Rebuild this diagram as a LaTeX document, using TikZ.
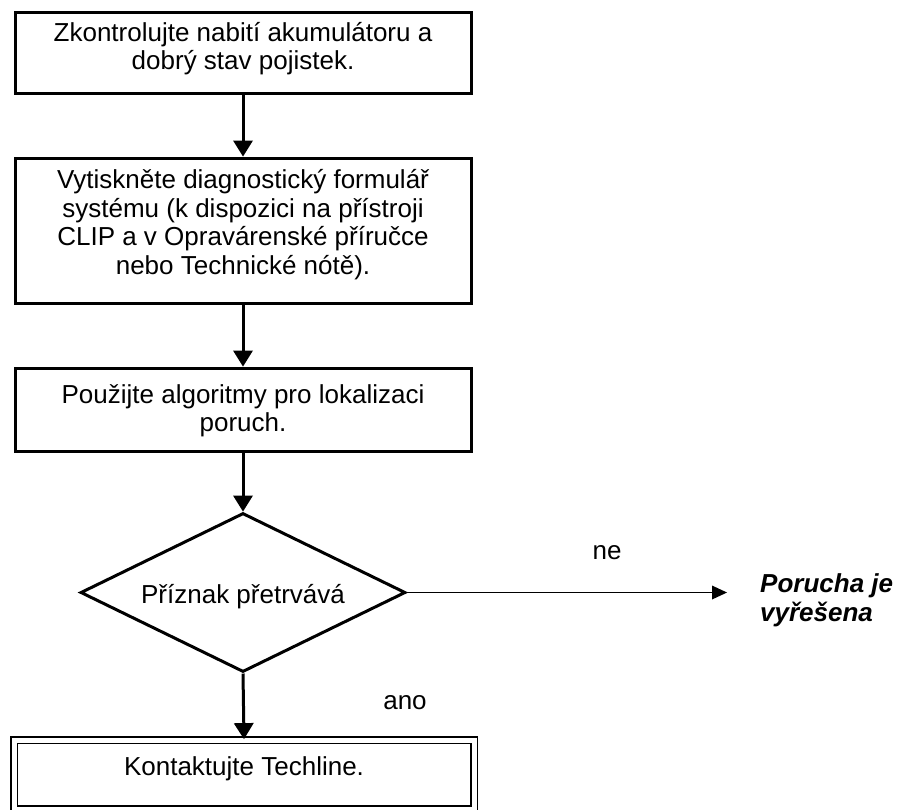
\documentclass[tikz,border=0pt]{standalone}
\usepackage{fontspec}
\setmainfont{Liberation Sans}
\usetikzlibrary{arrows.meta,shapes.geometric}
\begin{document}
\begin{tikzpicture}[x=1pt,y=-1pt,
  txt/.style={font=\fontsize{26}{28.5}\selectfont,align=center,inner sep=0pt},
  box/.style={draw,line width=3pt,minimum width=456pt,inner sep=0pt},
  flow/.style={line width=3pt,-{Triangle[width=20pt,length=16pt,line width=0pt]}},
  thinflow/.style={line width=1.4pt,-{Triangle[width=14pt,length=15pt,line width=0pt]}}
]
\useasboundingbox (0,0) rectangle (901,809);
\node[box,minimum height=81pt] (b1) at (243,52.5) {};
\node[txt] (t1) at (243,48.5) {Zkontrolujte nabití akumulátoru a\\dobrý stav pojistek.};
\node[box,minimum height=145pt] (b2) at (243,230.5) {};
\node[txt] (t2) at (243,224.5) {Vytiskněte diagnostický formulář\\systému (k dispozici na přístroji\\CLIP a v Opravárenské příručce\\nebo Technické nótě).};
\node[box,minimum height=83pt] (b3) at (243,409.5) {};
\node[txt] (t3) at (243,410.5) {Použijte algoritmy pro lokalizaci\\poruch.};
\node[txt,draw,shape=diamond,line width=3pt,aspect=2.04,minimum width=325pt,minimum height=159pt] (d) at (243,592.5) {};
\node[txt] (td) at (243,597) {Příznak přetrvává};
\node[draw,line width=1.8pt,double,double distance=5pt,minimum width=460pt,minimum height=69pt,inner sep=0pt] (b4) at (244,774.5) {};
\node[txt] (t4) at (244,769) {Kontaktujte Techline.};
\node[txt,anchor=west,align=left,font=\fontsize{26}{29}\selectfont\bfseries\itshape] (res) at (760,600) {Porucha je\\vyřešena};
\node[txt] (ne) at (607,553) {ne};
\node[txt] (ano) at (405,703) {ano};
\draw[flow] (b1.south) -- (b2.north);
\draw[flow] (b2.south) -- (b3.north);
\draw[flow] (b3.south) -- (d.north);
\draw[flow] (d.south) -- (b4.north);
\draw[thinflow,shorten >=33pt] (d.east) -- (d.east -| res.west);
\end{tikzpicture}
\end{document}
